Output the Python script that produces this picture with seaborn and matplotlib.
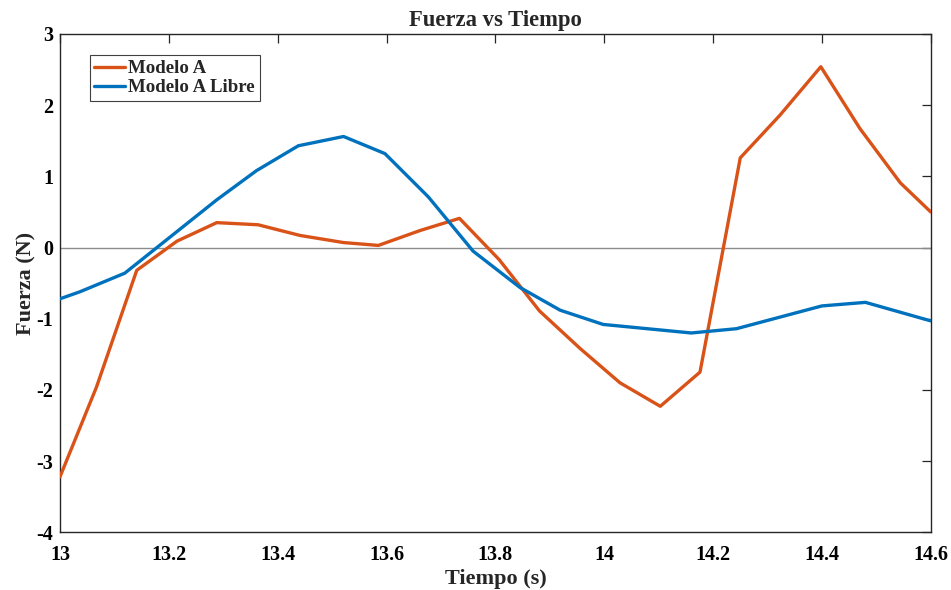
import matplotlib
matplotlib.use("Agg")
import matplotlib.pyplot as plt
import seaborn as sns
import pandas as pd

# Force samples (time in s, force in N)
tiempo_a = [13.000, 13.067, 13.141, 13.215, 13.288, 13.364, 13.441, 13.521, 13.585,
            13.662, 13.734, 13.807, 13.881, 13.956, 14.029, 14.103, 14.176, 14.250,
            14.323, 14.398, 14.470, 14.544, 14.600]
fuerza_a = [-3.22, -1.96, -0.32, 0.09, 0.35, 0.32, 0.17, 0.07, 0.03,
            0.24, 0.41, -0.17, -0.89, -1.42, -1.90, -2.23, -1.75, 1.26,
            1.86, 2.54, 1.67, 0.91, 0.50]

tiempo_libre = [13.000, 13.037, 13.119, 13.288, 13.361, 13.438, 13.521, 13.597, 13.677,
                13.759, 13.845, 13.919, 13.998, 14.160, 14.243, 14.400, 14.480, 14.600]
fuerza_libre = [-0.72, -0.62, -0.36, 0.67, 1.08, 1.43, 1.56, 1.32, 0.71,
                -0.05, -0.56, -0.88, -1.08, -1.20, -1.14, -0.82, -0.77, -1.03]

series_names = ["Modelo A", "Modelo A Libre"]
x_ticks = [13, 13.2, 13.4, 13.6, 13.8, 14, 14.2, 14.4, 14.6]
x_tick_labels = ["13", "13.2", "13.4", "13.6", "13.8", "14", "14.2", "14.4", "14.6"]
y_ticks = [-4, -3, -2, -1, 0, 1, 2, 3]
y_tick_labels = ["-4", "-3", "-2", "-1", "0", "1", "2", "3"]

df = pd.concat([
    pd.DataFrame({"t": tiempo_a, "f": fuerza_a, "serie": series_names[0]}),
    pd.DataFrame({"t": tiempo_libre, "f": fuerza_libre, "serie": series_names[1]}),
], ignore_index=True)

sns.set_style("white")
plt.rcParams["font.family"] = ["Liberation Serif", "DejaVu Serif"]
plt.rcParams["font.weight"] = "bold"
plt.rcParams["axes.unicode_minus"] = False

axis_color = "#262626"
fig = plt.figure(figsize=(9.51, 5.90), dpi=100)
ax = fig.add_axes([0.0631, 0.0978, 0.9156, 0.8446])

ax.axhline(0, color="#8c8c8c", lw=1.0, zorder=1)

palette = {series_names[0]: "#D95319", series_names[1]: "#0072BD"}
sns.lineplot(data=df, x="t", y="f", hue="serie", hue_order=series_names,
             palette=palette, lw=2.4, sort=False, estimator=None, ax=ax, zorder=3)

ax.set_xlim(13, 14.6)
ax.set_ylim(-4, 3)
ax.set_xticks(x_ticks)
ax.set_xticklabels(x_tick_labels)
ax.set_yticks(y_ticks)
ax.set_yticklabels(y_tick_labels)

for s in ax.spines.values():
    s.set_visible(True)
    s.set_color(axis_color)
    s.set_linewidth(1.0)
ax.tick_params(direction="in", length=6.5, width=0.9, color=axis_color,
               top=True, right=True, labelsize=14.5, labelcolor="black")
ax.tick_params(axis="x", pad=9)
ax.tick_params(axis="y", pad=5)
for lbl in ax.get_xticklabels() + ax.get_yticklabels():
    lbl.set_fontweight("bold")

ax.set_title("Fuerza vs Tiempo", fontsize=16.3, fontweight="bold", pad=6)
ax.set_xlabel("Tiempo (s)", fontsize=16, fontweight="bold", labelpad=3)
ax.set_ylabel("Fuerza (N)", fontsize=16, fontweight="bold", labelpad=0)

leg = ax.legend(loc="upper left", bbox_to_anchor=(0.034, 0.957), fancybox=False,
                frameon=True, edgecolor="#404040", framealpha=1,
                prop={"weight": "bold", "size": 13.6}, handlelength=1.6,
                handletextpad=0.2, borderpad=0.25, labelspacing=0.1,
                borderaxespad=0)
leg.get_frame().set_linewidth(0.8)
for line in leg.get_lines():
    line.set_linewidth(2.4)

fig.savefig("out.png", dpi=100)
